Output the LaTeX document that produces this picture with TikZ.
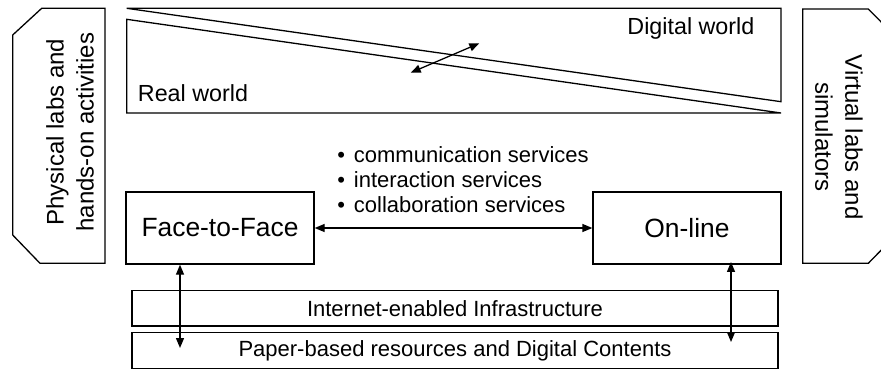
\documentclass[tikz,border=0pt]{standalone}
\usepackage{fontspec}
\setmainfont{Liberation Sans}
\usetikzlibrary{arrows.meta}
\begin{document}
\begin{tikzpicture}[x=1pt,y=-1pt,line width=1.3pt,
  box/.style={draw,line width=1.3pt,inner sep=0pt},
  arr/.style={{Triangle[length=10pt,width=8pt]}-{Triangle[length=10pt,width=8pt]},line width=1.3pt},
  fbig/.style={font=\fontsize{26.4}{30}\selectfont},
  fmid/.style={font=\fontsize{23.3}{28}\selectfont},
  fside/.style={font=\fontsize{24}{30}\selectfont},
  fsmall/.style={font=\fontsize{22}{25}\selectfont},
  bul/.style={fsmall,anchor=base west,inner sep=0pt}]
\useasboundingbox (0,0) rectangle (881,369);
% side panels
\draw (41.7,8.3) -- (105,8.3) -- (105,263.3) -- (40,263.3) -- (12.7,235) -- (12.7,35) -- cycle;
\begin{scope}
\clip (0,0) rectangle (881,369);
\draw (802.7,9) -- (868.3,9) -- (895,36) -- (895,236) -- (868.3,263.3) -- (802.7,263.3) -- cycle;
\end{scope}
\node[fside,rotate=90,align=center] (phys) at (70,132) {Physical labs and\\hands-on activities};
\node[fside,rotate=-90,align=center] (virt) at (839,137) {Virtual labs and\\simulators};
% top region
\draw (126.7,8.3) -- (781,8.3) -- (781,101.7) -- cycle;
\draw (126.7,19.3) -- (126.7,113) -- (781,113) -- cycle;
\node[fmid,anchor=base east,inner sep=0pt] (digital) at (755,35) {Digital world};
\node[fmid,anchor=base west,inner sep=0pt] (real) at (137.3,101.5) {Real world};
\coordinate (w1) at (410.7,72.7);
\coordinate (w2) at (479.3,43.3);
\draw[arr] (w1) -- (w2);
% middle
\node[box,fbig,minimum width=188pt,minimum height=72pt] (face) at (220,228) {Face-to-Face};
\node[box,fbig,minimum width=188pt,minimum height=72pt] (online) at (687,228) {On-line};
\draw[arr] (face.east) -- (online.west);
\node[bul] (s1) at (336.7,162) {\makebox[16.6pt][l]{•}communication services};
\node[bul] (s2) at (336.7,187) {\makebox[16.6pt][l]{•}interaction services};
\node[bul] (s3) at (336.7,212) {\makebox[16.6pt][l]{•}collaboration services};
% bottom
\node[box,fsmall,minimum width=646pt,minimum height=35.3pt] (inet) at (455,308.4) {Internet-enabled Infrastructure};
\node[box,fsmall,minimum width=646pt,minimum height=35.6pt] (paper) at (455,350.5) {Paper-based resources and Digital Contents};
\coordinate (la) at (180,348);
\coordinate (ra) at (731,342);
\draw[arr] (face.south -| la) -- (la);
\draw[arr] ([yshift=2.7pt]online.south -| ra) -- (ra);
\end{tikzpicture}
\end{document}
